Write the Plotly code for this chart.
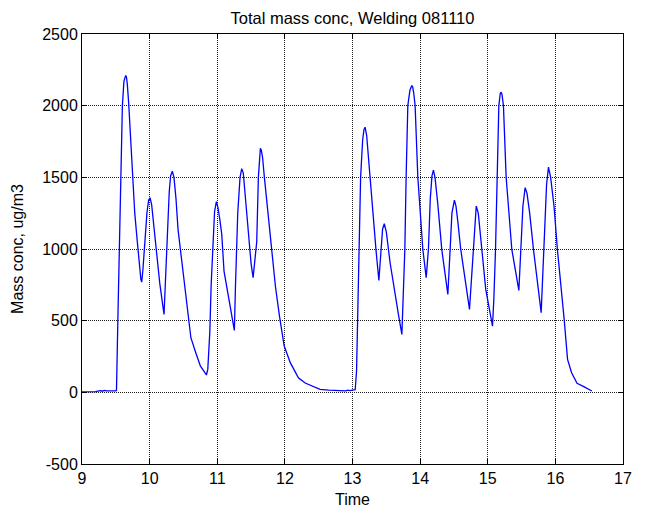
import plotly.graph_objects as go

# Time (hours) and total mass concentration (ug/m3)
time_h = [
    9.00, 9.10, 9.20, 9.25, 9.28, 9.30, 9.33, 9.36, 9.40, 9.45, 9.50, 9.51,
    9.53, 9.555, 9.572, 9.597, 9.62, 9.635, 9.646, 9.657, 9.67, 9.69, 9.72, 9.744, 9.78, 9.818, 9.85, 9.87, 9.883,
    9.90, 9.93, 9.96, 9.985, 10.006, 10.03, 10.06, 10.10, 10.15, 10.213,
    10.23, 10.262, 10.29, 10.31, 10.336, 10.36, 10.39, 10.42, 10.49, 10.558, 10.61, 10.68, 10.75, 10.80, 10.84,
    10.86, 10.89, 10.91, 10.933, 10.96, 10.987, 11.01, 11.04, 11.067, 11.10, 11.18, 11.253,
    11.27, 11.288, 11.303, 11.337, 11.362, 11.385, 11.41, 11.44, 11.47, 11.50, 11.53,
    11.55, 11.584, 11.608, 11.625, 11.638, 11.652, 11.67, 11.697, 11.75, 11.796, 11.86, 11.92, 11.99, 12.08, 12.13, 12.20,
    12.30, 12.40, 12.52, 12.65, 12.77, 12.85, 12.90, 12.93, 12.96, 13.00, 13.04,
    13.06, 13.08, 13.10, 13.12, 13.15, 13.17, 13.186, 13.21, 13.26, 13.30, 13.35, 13.39,
    13.42, 13.445, 13.47, 13.50, 13.556, 13.62, 13.68, 13.73,
    13.774, 13.793, 13.818, 13.85, 13.865, 13.877, 13.89, 13.905, 13.926, 13.966, 14.04, 14.09,
    14.123, 14.15, 14.175, 14.197, 14.22, 14.26, 14.32, 14.41,
    14.444, 14.47, 14.507, 14.53, 14.56, 14.60, 14.73,
    14.76, 14.789, 14.83, 14.86, 14.91, 14.97, 15.07,
    15.09, 15.115, 15.143, 15.164, 15.185, 15.198, 15.21, 15.232, 15.272, 15.356, 15.46,
    15.49, 15.52, 15.553, 15.58, 15.62, 15.676, 15.79,
    15.81, 15.834, 15.87, 15.898, 15.93, 15.98, 16.03, 16.13, 16.18, 16.24, 16.32, 16.42, 16.46, 16.50, 16.54,
]
mass_conc = [
    3, 2, 5, 10, 12, 8, 14, 10, 8, 10, 10, 15,
    500, 1000, 1500, 2000, 2170, 2205, 2211, 2200, 2150, 2020, 1780, 1500, 1250, 1050, 880, 790, 769,
    850, 1050, 1250, 1340, 1358, 1310, 1160, 960, 760, 544,
    750, 1137, 1400, 1510, 1543, 1500, 1350, 1137, 850, 579, 381, 280, 184, 150, 121,
    160, 420, 750, 1020, 1260, 1330, 1290, 1200, 1100, 846, 640, 432,
    750, 1100, 1250, 1500, 1560, 1530, 1400, 1220, 1050, 900, 800,
    880, 1050, 1500, 1670, 1702, 1690, 1640, 1500, 1250, 990, 740, 532, 323, 207, 160, 102,
    65, 44, 21, 16, 14, 13, 10, 15, 12, 16, 18,
    150, 700, 1050, 1500, 1760, 1835, 1850, 1790, 1500, 1250, 980, 781,
    1000, 1140, 1176, 1120, 904, 700, 540, 404,
    997, 1500, 2000, 2110, 2135, 2141, 2130, 2090, 2000, 1500, 997, 800,
    1000, 1350, 1510, 1550, 1500, 1320, 997, 683,
    1000, 1250, 1341, 1300, 1180, 1000, 579,
    800, 997, 1299, 1250, 1000, 720, 462,
    650, 1000, 1500, 2000, 2085, 2094, 2080, 2000, 1500, 997, 711,
    997, 1300, 1428, 1390, 1250, 997, 556,
    800, 997, 1450, 1571, 1500, 1300, 997, 509, 230, 137, 63, 40, 30, 15, 9,
]

x_ticks = [9, 10, 11, 12, 13, 14, 15, 16, 17]
y_ticks = [-500, 0, 500, 1000, 1500, 2000, 2500]

FONT = "Liberation Sans, Arial, sans-serif"
FS = 16

fig = go.Figure()
fig.add_trace(go.Scatter(
    x=time_h, y=mass_conc, mode="lines",
    line=dict(color="#0000ff", width=1.3),
    showlegend=False,
))

axis_common = dict(
    showline=True, linecolor="black", linewidth=1, mirror="ticks",
    ticks="inside", ticklen=5, tickcolor="black", tickwidth=1,
    showgrid=True, gridcolor="#222222", griddash="1px,1px", gridwidth=1,
    zeroline=False, automargin=False,
    tickfont=dict(family=FONT, size=FS, color="black"),
)

fig.update_layout(
    width=646, height=510,
    margin=dict(l=82, r=23, t=34, b=46, autoexpand=False),
    paper_bgcolor="white", plot_bgcolor="white",
    title=dict(text="Total mass conc, Welding 081110", x=0.5, xanchor="center",
               xref="paper", y=1 - 18 / 510, yanchor="middle", yref="container",
               automargin=False,
               font=dict(family=FONT, size=16.5, color="black")),
    xaxis=dict(range=[9, 17], tickvals=x_ticks, ticktext=[str(v) for v in x_ticks],
               title=dict(text="Time", standoff=7,
                          font=dict(family=FONT, size=FS, color="black")),
               **axis_common),
    yaxis=dict(range=[-500, 2500], tickvals=y_ticks, ticktext=[str(v) for v in y_ticks],
               title=dict(text="Mass conc, ug/m3", standoff=14,
                          font=dict(family=FONT, size=FS, color="black")),
               **axis_common),
)

fig.write_html("out.html",
               config={"displayModeBar": False},
               post_script="document.body.style.margin='0';document.body.style.overflow='hidden';")
